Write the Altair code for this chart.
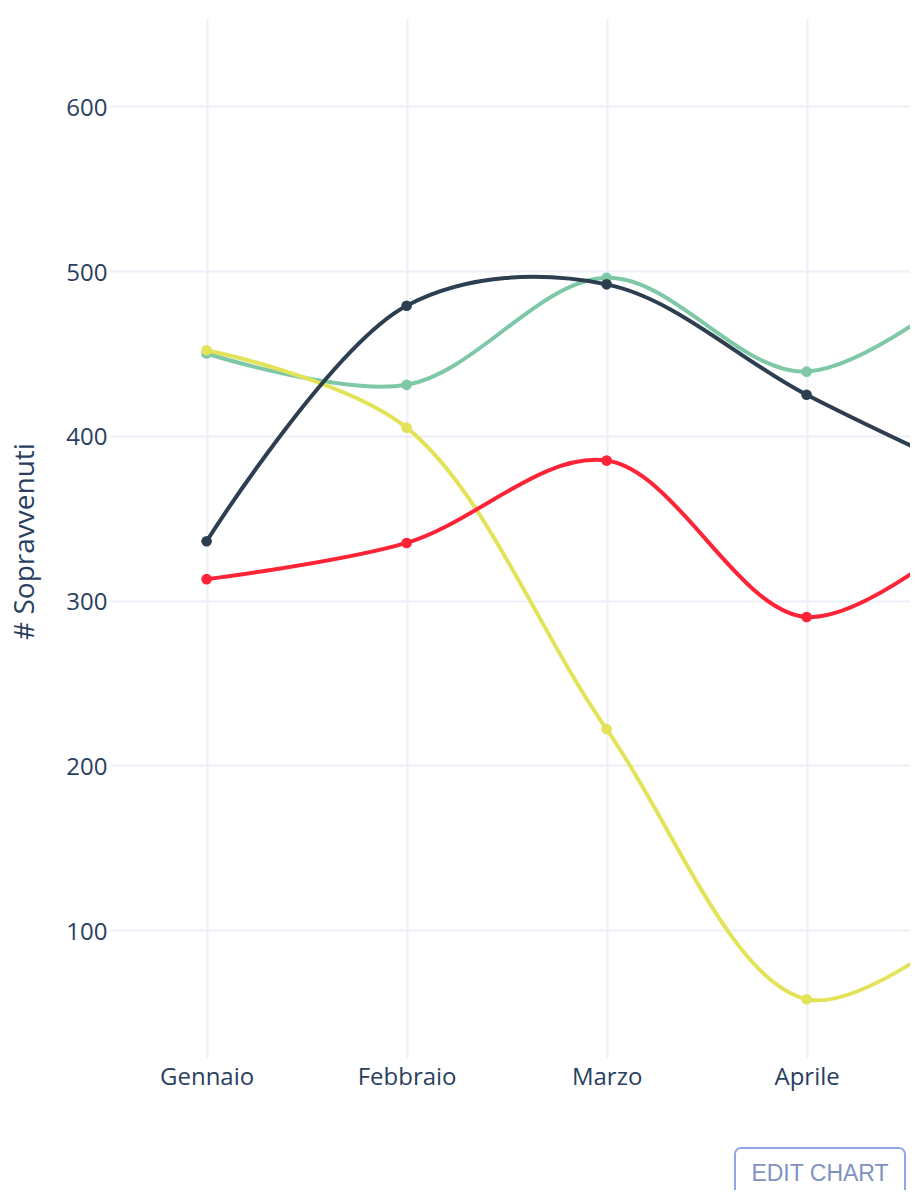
import json
import altair as alt
import pandas as pd

# ---- data ----
months = ["Gennaio", "Febbraio", "Marzo", "Aprile", "Maggio"]
series_names = ["Serie A", "Serie B", "Serie C", "Serie D"]
series_colors = ["#7ec8a8", "#e3e359", "#2c3e50", "#fd2437"]
teal_values = [450, 431, 496, 439, 510]
yellow_values = [452, 405, 222, 58, 122]
navy_values = [336, 479, 492, 425, 367]
red_values = [313, 335, 385, 290, 361]
y_ticks = [100, 200, 300, 400, 500, 600]
y_title = "# Sopravvenuti"
button_label = ["EDIT CHART"]

all_values = [teal_values, yellow_values, navy_values, red_values]
rows = []
for name, vals in zip(series_names, all_values):
    for i, (m, v) in enumerate(zip(months, vals)):
        rows.append({"month": m, "idx": i, "series": name, "value": v})
df = pd.DataFrame(rows)

label_expr = json.dumps(months) + "[datum.value]"

x_enc = alt.X(
    "idx:Q",
    scale=alt.Scale(domain=[-0.483, 3.517], nice=False, zero=False),
    axis=alt.Axis(
        values=[0, 1, 2, 3],
        labelExpr=label_expr,
        title=None,
        domain=False,
        ticks=False,
        tickSize=0,
        grid=True,
        gridColor="#ebf0f8",
        gridWidth=2,
        labelFont="Open Sans",
        labelFontSize=24,
        labelColor="#2a3f5f",
        labelPadding=7,
    ),
)
y_enc = alt.Y(
    "value:Q",
    scale=alt.Scale(domain=[22.3, 653.7], nice=False, zero=False),
    axis=alt.Axis(
        values=y_ticks,
        title=y_title,
        domain=False,
        ticks=False,
        tickSize=0,
        grid=True,
        gridColor="#ebf0f8",
        gridWidth=2,
        labelFont="Open Sans",
        labelFontSize=24,
        labelColor="#2a3f5f",
        labelPadding=3,
        labelOffset=2,
        titleFont="Open Sans",
        titleFontSize=28,
        titleFontWeight="normal",
        titleColor="#2a3f5f",
        titleAngle=-90,
        titleAlign="center",
        titleBaseline="alphabetic",
        titleX=-77,
        titleY=523,
    ),
)
color_enc = alt.Color(
    "series:N",
    scale=alt.Scale(domain=series_names, range=series_colors),
    legend=None,
)

base = alt.Chart(df)
layers = []
for name in series_names:
    sub = base.transform_filter(alt.datum.series == name)
    line = sub.mark_line(clip=True, strokeWidth=4, interpolate="catmull-rom").encode(
        x=x_enc, y=y_enc, color=color_enc
    )
    pts = sub.mark_point(clip=True, filled=True, size=113, opacity=1).encode(
        x=x_enc, y=y_enc, color=color_enc
    )
    layers += [line, pts]

btn_df = pd.DataFrame({"label": button_label})
btn_rect = alt.Chart(btn_df).mark_rect(
    fill="white", stroke="#8fa7e6", strokeWidth=2, cornerRadius=6
).encode(x=alt.value(625), x2=alt.value(795), y=alt.value(1130), y2=alt.value(1210))
btn_text = alt.Chart(btn_df).mark_text(
    font="Liberation Sans", fontSize=23, color="#7f92bf", align="center", baseline="middle"
).encode(x=alt.value(710), y=alt.value(1156), text="label:N")

chart = (
    alt.layer(*layers, btn_rect, btn_text)
    .properties(
        width=800,
        height=1040,
        autosize=alt.AutoSizeParams(type="none"),
        padding={"left": 102, "top": 10, "right": 0, "bottom": 132},
        background="white",
    )
    .configure_view(stroke=None)
)

chart.save("out.html", embed_options={"renderer": "svg", "actions": False})
